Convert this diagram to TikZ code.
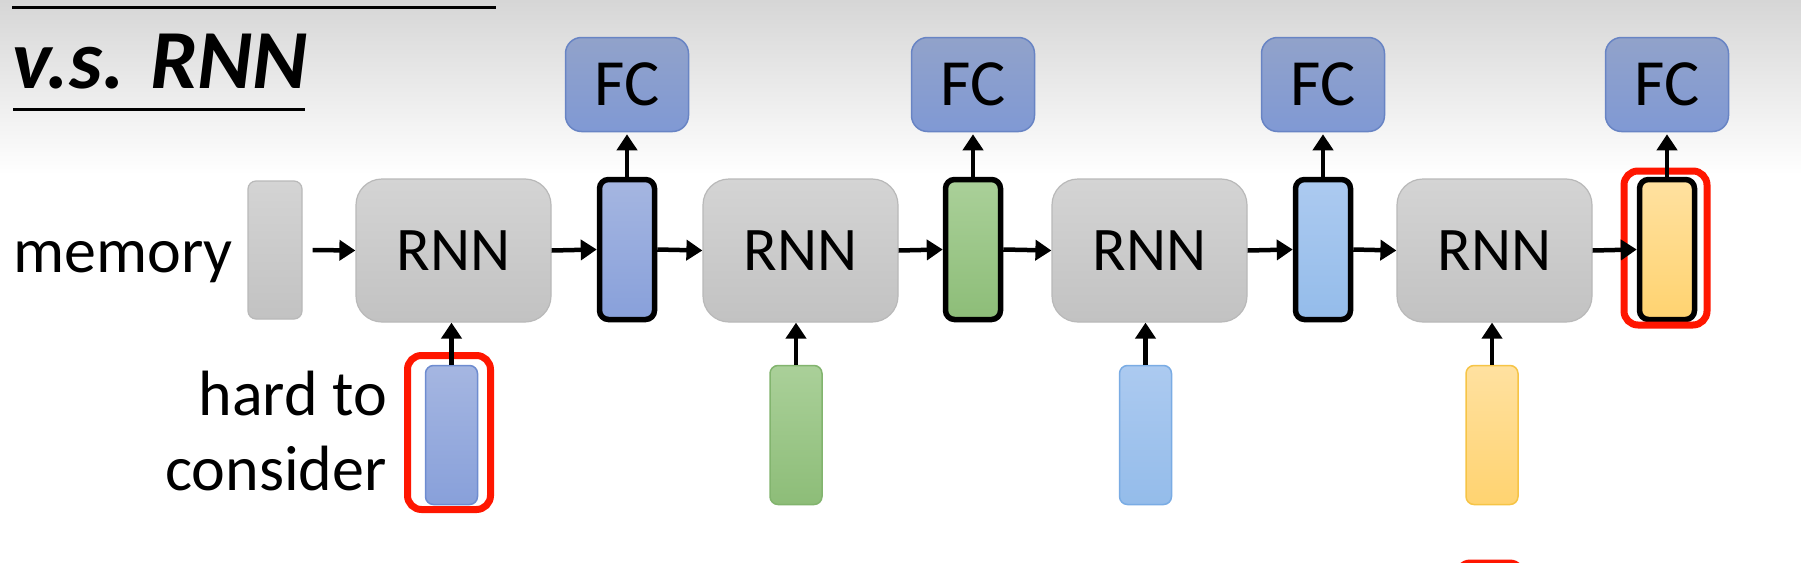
\documentclass[tikz,border=0pt]{standalone}
\usepackage{fontspec}
\setmainfont{Carlito}
\usetikzlibrary{arrows.meta}
\definecolor{bgtop}{RGB}{214,214,214}
\definecolor{graytop}{RGB}{212,212,212}
\definecolor{graybot}{RGB}{194,194,194}
\definecolor{grayline}{RGB}{185,185,185}
\definecolor{fctop}{RGB}{145,162,202}
\definecolor{fcbot}{RGB}{128,153,212}
\definecolor{fcline}{RGB}{104,132,196}
\definecolor{bluetop}{RGB}{165,182,225}
\definecolor{bluebot}{RGB}{136,160,218}
\definecolor{blueline}{RGB}{110,140,208}
\definecolor{greentop}{RGB}{170,208,153}
\definecolor{greenbot}{RGB}{141,189,120}
\definecolor{greenline}{RGB}{130,180,110}
\definecolor{lbtop}{RGB}{172,202,240}
\definecolor{lbbot}{RGB}{148,188,234}
\definecolor{lbline}{RGB}{122,172,228}
\definecolor{yeltop}{RGB}{255,225,160}
\definecolor{yelbot}{RGB}{255,211,112}
\definecolor{yelline}{RGB}{246,196,70}
\definecolor{redc}{RGB}{255,22,0}
\begin{document}
\begin{tikzpicture}[x=1pt,y=-1pt,
  rnnbox/.style={rounded corners=26pt, minimum width=195pt, minimum height=143pt,
    top color=graytop, bottom color=graybot, draw=grayline, line width=1.2pt,
    inner sep=0pt, font=\fontsize{62}{74}\selectfont},
  membox/.style={rounded corners=8pt, minimum width=54pt, minimum height=138pt,
    top color=graytop, bottom color=graybot, draw=grayline, line width=1.2pt, inner sep=0pt},
  fcbox/.style={rounded corners=16pt, minimum width=123pt, minimum height=94pt,
    top color=fctop, bottom color=fcbot, draw=fcline, line width=1.5pt,
    inner sep=0pt, font=\fontsize{66}{78}\selectfont},
  vecbox/.style={rounded corners=9pt, minimum width=55pt, minimum height=140pt,
    draw=black, line width=5.5pt, inner sep=0pt},
  inbox/.style={rounded corners=8pt, minimum width=52pt, minimum height=139pt,
    line width=1.5pt, inner sep=0pt},
  redbox/.style={rounded corners=14pt, minimum width=83pt, minimum height=154pt,
    draw=redc, line width=7pt, inner sep=0pt},
  txt/.style={font=\fontsize{64}{76}\selectfont, inner sep=0pt},
  arr/.style={line width=4.5pt, -{Triangle[length=16pt,width=20pt]}}
]
\useasboundingbox (0,0) rectangle (1801,562);
\clip (0,0) rectangle (1801,562);
\fill[white] (0,0) rectangle (1801,562);
\shade[top color=bgtop, bottom color=white] (0,0) rectangle (1801,175);

% title
\draw[line width=3pt] (12,7.3) -- (496,7.3);
\node[anchor=base west, inner sep=0pt, font=\fontsize{84}{100}\selectfont\bfseries\itshape] (title) at (12,88) {v.s. RNN};
\draw[line width=3pt] (13,109) -- (305,109);

% labels
\node[txt, anchor=base west] (memtxt) at (13,272) {memory};
\node[txt, anchor=base east] (hard) at (387,415) {hard to};
\node[txt, anchor=base east] (cons) at (387,490) {consider};

% memory
\node[membox] (mem) at (275,250) {};

% RNN boxes
\node[rnnbox] (rnn1) at (453.5,250.5) {RNN};
\node[rnnbox] (rnn2) at (800.5,250.5) {RNN};
\node[rnnbox] (rnn3) at (1149.5,250.5) {RNN};
\node[rnnbox] (rnn4) at (1494.5,250.5) {RNN};

% FC boxes
\node[fcbox] (fc1) at (627,84.5) {FC};
\node[fcbox] (fc2) at (973,84.5) {FC};
\node[fcbox] (fc3) at (1323,84.5) {FC};
\node[fcbox] (fc4) at (1667,84.5) {FC};

% output vectors
\node[vecbox, top color=bluetop, bottom color=bluebot] (v1) at (627,249.5) {};
\node[vecbox, top color=greentop, bottom color=greenbot] (v2) at (973,249.5) {};
\node[vecbox, top color=lbtop, bottom color=lbbot] (v3) at (1323,249.5) {};
\node[vecbox, top color=yeltop, bottom color=yelbot] (v4) at (1667,249.5) {};

% input vectors
\node[inbox, draw=blueline, top color=bluetop, bottom color=bluebot] (in1) at (451.5,435) {};
\node[inbox, draw=greenline, top color=greentop, bottom color=greenbot] (in2) at (796,435) {};
\node[inbox, draw=lbline, top color=lbtop, bottom color=lbbot] (in3) at (1145.5,435) {};
\node[inbox, draw=yelline, top color=yeltop, bottom color=yelbot] (in4) at (1492,435) {};

% red highlights
\node[redbox] (red1) at (449,432.5) {};
\node[redbox] (red2) at (1665.5,248) {};
\node[redbox, minimum width=67pt] (red3) at (1490,640) {};

% horizontal arrows
\draw[arr] ([xshift=10pt]mem.east) -- (rnn1.west);
\draw[arr] (rnn1.east) -- (v1.west);
\draw[arr] (v1.east) -- (rnn2.west);
\draw[arr] (rnn2.east) -- (v2.west);
\draw[arr] (v2.east) -- (rnn3.west);
\draw[arr] (rnn3.east) -- (v3.west);
\draw[arr] (v3.east) -- (rnn4.west);
\draw[arr] (rnn4.east) -- (v4.west);

% vertical arrows
\foreach \i in {1,2,3,4}{
  \draw[arr, shorten >=2pt] (v\i.north) -- (fc\i.south);
  \draw[arr] (in\i.north) -- (in\i.north |- rnn\i.south);
}
\end{tikzpicture}
\end{document}
